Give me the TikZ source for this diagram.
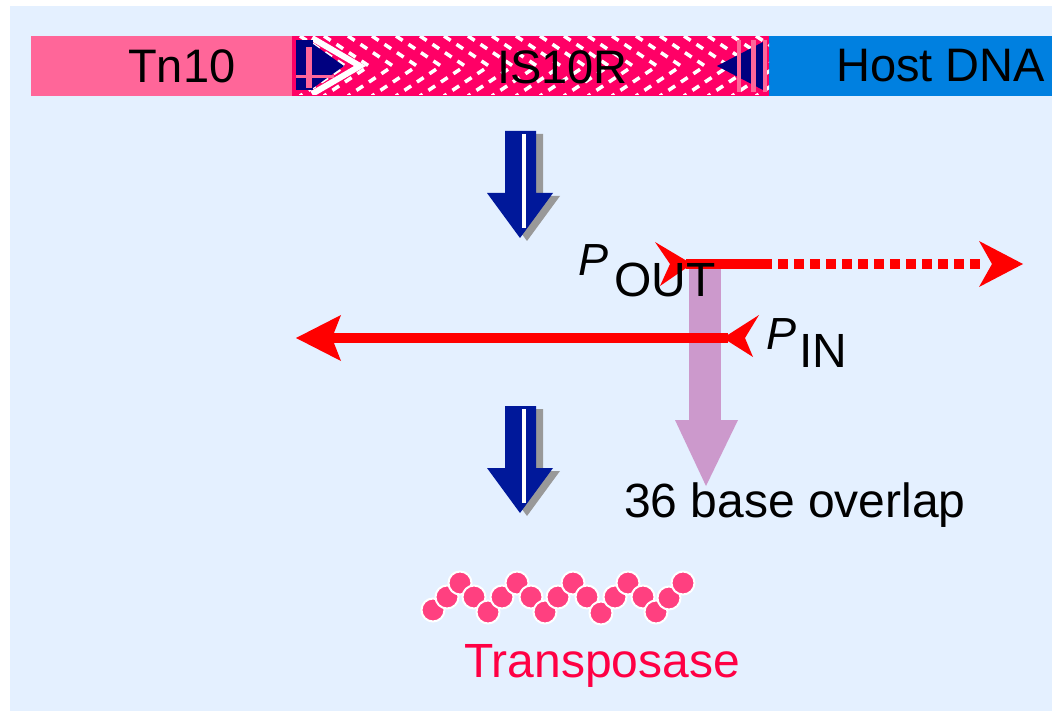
\documentclass[tikz,border=0pt]{standalone}
\usepackage{fontspec}
\setmainfont{Liberation Sans}
\definecolor{bgblue}{HTML}{E4F0FF}
\definecolor{tnpink}{HTML}{FF6699}
\definecolor{ispink}{HTML}{FF0066}
\definecolor{hostblue}{HTML}{0080E0}
\definecolor{navy}{HTML}{000080}
\definecolor{arrowblue}{HTML}{00189A}
\definecolor{shadowgray}{HTML}{999999}
\definecolor{pred}{HTML}{FF0000}
\definecolor{lilac}{HTML}{CC99CC}
\definecolor{dotpink}{HTML}{FF4080}
\definecolor{tptext}{HTML}{FF0044}
\begin{document}
\begin{tikzpicture}[x=1pt,y=-1pt,
  lbl/.style={inner sep=0pt,anchor=base west,font=\fontsize{47}{50}\selectfont},
  sublbl/.style={inner sep=0pt,anchor=base west,font=\fontsize{48}{50}\selectfont},
  plbl/.style={inner sep=0pt,anchor=base west,font=\fontsize{45}{50}\selectfont\itshape},
  redline/.style={draw=pred,line width=10pt},
  tpdot/.style={circle,fill=dotpink,draw=white,line width=2pt,minimum size=23pt,inner sep=0pt},
  bluearrow/.pic={
    \fill[shadowgray] (-8,3) -- (23,3) -- (23,65) -- (40,65) -- (7,110) -- (-26,65) -- (-8,65) -- cycle;
    \fill[arrowblue] (-15,0) -- (16,0) -- (16,62) -- (33,62) -- (0,107) -- (-33,62) -- (-15,62) -- cycle;
    \fill[white] (2,3) rectangle (6,97);
  }]
\useasboundingbox (0,0) rectangle (1052,711);
\fill[white] (0,0) rectangle (1052,711);
\fill[bgblue] (10,6) rectangle (1052,711);

% DNA bar
\fill[tnpink] (31,36) rectangle (292,96);
\fill[ispink] (292,36) rectangle (769,96);
\fill[hostblue] (769,36) rectangle (1052,96);
\begin{scope}
  \clip (292,37) rectangle (769,95);
  \foreach \x in {300,324,...,790}{
    \draw[white,line width=3.5pt,dash pattern=on 8pt off 7pt] (\x,36) -- (\x+45,66) -- (\x,96);
  }
  \draw[white,line width=6pt] (312,38) -- (360,66) -- (312,94);
\end{scope}
% left navy end mark
\fill[navy] (296,40) rectangle (313,90);
\fill[navy] (313,44) -- (344,66) -- (313,88) -- cycle;
\fill[tnpink] (306,47) rectangle (312,88);
\fill[tnpink] (296,75) rectangle (334,78);
% right navy end mark
\fill[navy] (717,66) -- (763,42) -- (763,90) -- cycle;
\fill[tnpink] (737,40) rectangle (741,92);
\fill[tnpink] (751,40) rectangle (756,92);
\fill[tnpink] (763,40) rectangle (767,92);

\node[lbl] (tn) at (128,83) {Tn10};
\node[lbl] (is) at (497,84) {IS10R};
\node[lbl] (host) at (836,82) {Host DNA};

% blue arrows
\pic (ba1) at (520,131) {bluearrow};
\pic (ba2) at (520,406) {bluearrow};

% overlap arrow (purple)
\fill[lilac] (689,269) rectangle (721,420);
\fill[lilac] (675,420) -- (738,420) -- (706,486) -- cycle;

% P_OUT arrow
\coordinate (poutS) at (686,264);
\coordinate (poutM) at (762,264);
\coordinate (poutE) at (984,264);
\fill[pred] (655,242) -- (692,264) -- (660,286) -- (670,264) -- cycle;
\draw[redline] (poutS) -- (poutM);
\draw[pred,line width=10pt,dash pattern=on 10pt off 6pt] (poutM) -- (poutE);
\fill[pred] (979,241) -- (1023,264) -- (979,287) -- (992,264) -- cycle;

% P_IN arrow
\coordinate (pinS) at (728,338);
\coordinate (pinE) at (330,338);
\draw[redline] (pinS) -- (pinE);
\fill[pred] (296,338) -- (341,315) -- (332,338) -- (341,361) -- cycle;
\fill[pred] (723,338) -- (759,315) -- (745,338) -- (753,357) -- cycle;

% promoter labels
\node[plbl] (pout) at (578,276) {P};
\node[sublbl] (outsub) at (614,297) {OUT};
\node[plbl] (pin) at (766,349) {P};
\node[sublbl] (insub) at (799,367) {IN};

\node[sublbl] (overlap) at (624,517) {36 base overlap};

% transposase chain
\foreach \px/\py [count=\i] in {433/610,447/597,460/583,474/597,488/612,502/597,517/583,531/597,545/612,558/597,573/583,587/597,601/613,615/597,628/583,643/597,656/612,669/598,683/583}{
  \node[tpdot] (d\i) at (\px,\py) {};
}
\node[sublbl,text=tptext] (tp) at (464,677) {Transposase};
\end{tikzpicture}
\end{document}
